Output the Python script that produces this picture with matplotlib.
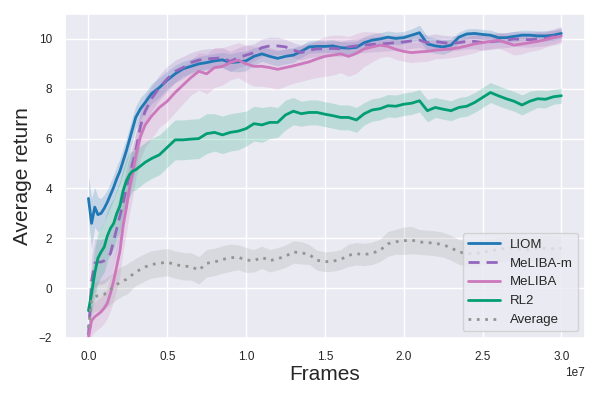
import numpy as np
import matplotlib
matplotlib.use("Agg")
import matplotlib.pyplot as plt
import seaborn as sns

# frames in units of 1e7
frames_e7 = [0.00, 0.02, 0.04, 0.06, 0.08, 0.10, 0.12, 0.14, 0.16, 0.18,
             0.20, 0.22, 0.24, 0.26, 0.28, 0.30, 0.33, 0.36, 0.40, 0.45,
             0.50, 0.55, 0.60, 0.65, 0.70, 0.75, 0.80, 0.85, 0.90, 0.95,
             1.00, 1.05, 1.10, 1.15, 1.20, 1.25, 1.30, 1.35, 1.40, 1.45,
             1.50, 1.55, 1.60, 1.65, 1.70, 1.75, 1.80, 1.85, 1.90, 1.95,
             2.00, 2.05, 2.10, 2.15, 2.20, 2.25, 2.30, 2.35, 2.40, 2.45,
             2.50, 2.55, 2.60, 2.65, 2.70, 2.75, 2.80, 2.85, 2.90, 2.95, 3.00]

liom = [3.6, 2.6, 3.25, 2.95, 3.0, 3.2, 3.45, 3.75, 4.05, 4.4,
        4.7, 5.1, 5.5, 5.95, 6.4, 6.85, 7.2, 7.45, 7.8, 8.05,
        8.35, 8.6, 8.8, 8.9, 9.0, 9.05, 9.12, 9.16, 9.05, 9.08,
        9.12, 9.3, 9.4, 9.3, 9.22, 9.3, 9.35, 9.5, 9.68, 9.7,
        9.7, 9.72, 9.65, 9.63, 9.66, 9.85, 9.95, 10.0, 10.07, 10.02,
        10.05, 10.15, 10.25, 9.8, 9.72, 9.68, 9.75, 10.07, 10.2, 10.22,
        10.18, 10.15, 10.05, 10.05, 10.1, 10.15, 10.15, 10.12, 10.12, 10.15, 10.22]
liom_sd = [0.9, 1.0, 0.8, 0.7, 0.6, 0.55, 0.5, 0.5, 0.5, 0.5,
           0.5, 0.5, 0.5, 0.5, 0.5, 0.45, 0.45, 0.4, 0.4, 0.4,
           0.35, 0.35, 0.3, 0.3, 0.3, 0.3, 0.3, 0.3, 0.35, 0.4,
           0.4, 0.35, 0.3, 0.3, 0.3, 0.3, 0.3, 0.25, 0.25, 0.25,
           0.25, 0.25, 0.25, 0.25, 0.25, 0.25, 0.25, 0.25, 0.25, 0.25,
           0.25, 0.25, 0.3, 0.3, 0.3, 0.3, 0.25, 0.2, 0.2, 0.2,
           0.2, 0.2, 0.2, 0.2, 0.2, 0.2, 0.2, 0.2, 0.2, 0.2, 0.2]

meliba_m = [-1.9, 0.3, 1.0, 1.05, 1.05, 1.1, 1.2, 1.4, 1.9, 2.4,
            2.9, 3.4, 4.0, 4.5, 5.0, 5.5, 6.5, 7.1, 7.6, 8.05,
            8.4, 8.7, 8.85, 9.05, 9.15, 9.2, 9.22, 9.24, 9.1, 9.25,
            9.35, 9.45, 9.65, 9.72, 9.72, 9.68, 9.55, 9.45, 9.55, 9.6,
            9.6, 9.62, 9.6, 9.68, 9.72, 9.75, 9.78, 9.8, 9.82, 9.85,
            9.88, 9.92, 9.95, 9.85, 9.9, 9.85, 9.82, 9.85, 9.9, 9.9,
            9.85, 9.88, 9.92, 9.95, 10.0, 9.98, 9.97, 10.0, 10.02, 10.1, 10.2]
meliba_m_sd = [0.6, 1.0, 1.0, 0.9, 0.9, 0.9, 0.9, 0.9, 0.9, 0.9,
               0.9, 0.8, 0.8, 0.8, 0.7, 0.7, 0.6, 0.6, 0.5, 0.5,
               0.5, 0.45, 0.45, 0.4, 0.4, 0.4, 0.4, 0.4, 0.4, 0.4,
               0.4, 0.35, 0.35, 0.35, 0.35, 0.3, 0.3, 0.3, 0.3, 0.3,
               0.3, 0.3, 0.3, 0.3, 0.3, 0.3, 0.3, 0.3, 0.3, 0.3,
               0.3, 0.3, 0.3, 0.3, 0.3, 0.3, 0.3, 0.3, 0.3, 0.3,
               0.3, 0.3, 0.3, 0.3, 0.3, 0.3, 0.3, 0.3, 0.3, 0.3, 0.3]

meliba = [-2.0, -1.3, -1.15, -1.05, -0.95, -0.8, -0.6, -0.2, 0.3, 0.9,
          1.5, 2.5, 3.2, 4.0, 4.6, 5.3, 6.1, 6.55, 6.9, 7.25,
          7.5, 7.85, 8.15, 8.45, 8.7, 8.6, 8.85, 8.9, 9.05, 9.15,
          9.0, 8.9, 8.9, 8.85, 8.78, 8.85, 8.92, 9.0, 9.08, 9.2,
          9.3, 9.35, 9.4, 9.3, 9.42, 9.6, 9.68, 9.75, 9.7, 9.58,
          9.5, 9.45, 9.48, 9.5, 9.55, 9.57, 9.6, 9.65, 9.72, 9.8,
          9.85, 9.9, 9.95, 9.85, 9.75, 9.8, 9.85, 9.9, 9.97, 10.05, 10.12]
meliba_sd = [0.5, 0.6, 0.6, 0.6, 0.6, 0.6, 0.6, 0.7, 0.8, 0.9,
             1.0, 1.0, 1.0, 1.0, 1.0, 0.9, 0.9, 0.9, 0.9, 0.8,
             0.8, 0.8, 0.75, 0.7, 0.75, 0.8, 0.8, 0.75, 0.7, 0.7,
             0.75, 0.8, 0.8, 0.8, 0.8, 0.75, 0.7, 0.7, 0.7, 0.75,
             0.8, 0.8, 0.75, 0.8, 0.8, 0.7, 0.6, 0.5, 0.4, 0.4,
             0.4, 0.4, 0.4, 0.4, 0.35, 0.35, 0.35, 0.35, 0.35, 0.35,
             0.3, 0.3, 0.3, 0.35, 0.4, 0.4, 0.35, 0.35, 0.3, 0.3, 0.3]

rl2 = [-0.9, -0.2, 0.6, 1.2, 1.45, 1.65, 2.1, 2.4, 2.6, 3.0,
       3.3, 3.9, 4.3, 4.55, 4.7, 4.75, 4.9, 5.05, 5.2, 5.35,
       5.65, 5.95, 5.95, 5.98, 6.0, 6.2, 6.25, 6.15, 6.25, 6.3,
       6.4, 6.6, 6.55, 6.65, 6.65, 6.95, 7.1, 7.0, 7.05, 7.05,
       6.98, 6.92, 6.85, 6.85, 6.75, 7.0, 7.15, 7.2, 7.32, 7.3,
       7.38, 7.42, 7.52, 7.12, 7.25, 7.18, 7.12, 7.25, 7.3, 7.45,
       7.65, 7.85, 7.72, 7.6, 7.5, 7.35, 7.5, 7.6, 7.58, 7.68, 7.72]
rl2_sd = [0.5, 0.8, 1.0, 1.0, 1.0, 1.0, 1.0, 1.0, 1.0, 1.0,
          1.0, 0.9, 0.9, 0.9, 0.8, 0.8, 0.8, 0.8, 0.8, 0.8,
          0.8, 0.8, 0.8, 0.8, 0.8, 0.8, 0.75, 0.75, 0.75, 0.75,
          0.7, 0.7, 0.7, 0.65, 0.6, 0.6, 0.55, 0.5, 0.5, 0.5,
          0.5, 0.5, 0.5, 0.5, 0.5, 0.45, 0.45, 0.45, 0.45, 0.45,
          0.45, 0.45, 0.45, 0.45, 0.4, 0.4, 0.4, 0.4, 0.4, 0.4,
          0.4, 0.4, 0.4, 0.4, 0.4, 0.4, 0.4, 0.35, 0.35, 0.3, 0.3]

average = [-1.6, -0.5, -0.35, -0.3, -0.28, -0.25, -0.15, -0.05, 0.05, 0.15,
           0.22, 0.3, 0.35, 0.45, 0.55, 0.65, 0.75, 0.85, 0.95, 1.0,
           1.04, 0.95, 0.88, 0.87, 0.72, 1.0, 1.05, 1.15, 1.22, 1.24,
           1.13, 1.1, 1.24, 1.1, 1.18, 1.28, 1.45, 1.42, 1.35, 1.12,
           1.06, 1.08, 1.15, 1.32, 1.38, 1.35, 1.4, 1.52, 1.78, 1.86,
           1.9, 1.93, 1.85, 1.83, 1.8, 1.74, 1.62, 1.45, 1.4, 1.38,
           1.45, 1.5, 1.55, 1.6, 1.6, 1.55, 1.55, 1.6, 1.6, 1.58, 1.6]
average_sd = [0.5, 0.6, 0.6, 0.6, 0.6, 0.6, 0.6, 0.6, 0.6, 0.6,
              0.6, 0.6, 0.6, 0.6, 0.55, 0.55, 0.55, 0.55, 0.55, 0.55,
              0.55, 0.55, 0.55, 0.55, 0.55, 0.55, 0.55, 0.55, 0.55, 0.5,
              0.5, 0.45, 0.45, 0.45, 0.45, 0.45, 0.45, 0.45, 0.4, 0.4,
              0.4, 0.4, 0.4, 0.45, 0.45, 0.45, 0.45, 0.45, 0.5, 0.5,
              0.55, 0.55, 0.5, 0.5, 0.5, 0.5, 0.5, 0.5, 0.5, 0.5,
              0.5, 0.5, 0.5, 0.5, 0.5, 0.5, 0.5, 0.5, 0.5, 0.5, 0.5]

labels = ["LIOM", "MeLIBA-m", "MeLIBA", "RL2", "Average"]

sns.set_theme(style="darkgrid")
plt.rcParams["font.family"] = ["Liberation Sans", "DejaVu Sans"]

fig = plt.figure(figsize=(6, 4), dpi=100)
ax = fig.add_axes([0.108, 0.155, 0.867, 0.81])

x = np.array(frames_e7) * 1e7
series = [
    (liom, liom_sd, "#1f77b4", "-"),
    (meliba_m, meliba_m_sd, "#9467bd", (0, (4, 2.5))),
    (meliba, meliba_sd, "#cc78bc", "-"),
    (rl2, rl2_sd, "#029e73", "-"),
    (average, average_sd, "#949494", (0, (1, 2))),
]
for (y, sd, c, ls), lab in zip(series, labels):
    y = np.array(y); sd = np.array(sd)
    ax.fill_between(x, y - sd, y + sd, color=c, alpha=0.2, linewidth=0)
    ax.plot(x, y, color=c, linestyle=ls, linewidth=2.0, label=lab)

ax.set_ylim(-2, 11)
ax.set_yticks([-2, 0, 2, 4, 6, 8, 10])
ax.tick_params(axis="both", labelsize=8.5, pad=3)
ax.set_xlabel("Frames", fontsize=15, labelpad=2)
ax.set_ylabel("Average return", fontsize=15, labelpad=5)
ax.xaxis.get_offset_text().set_fontsize(8.5)
ax.legend(loc="lower right", fontsize=9.5, handlelength=2.4)

fig.savefig("out.png", dpi=100)
